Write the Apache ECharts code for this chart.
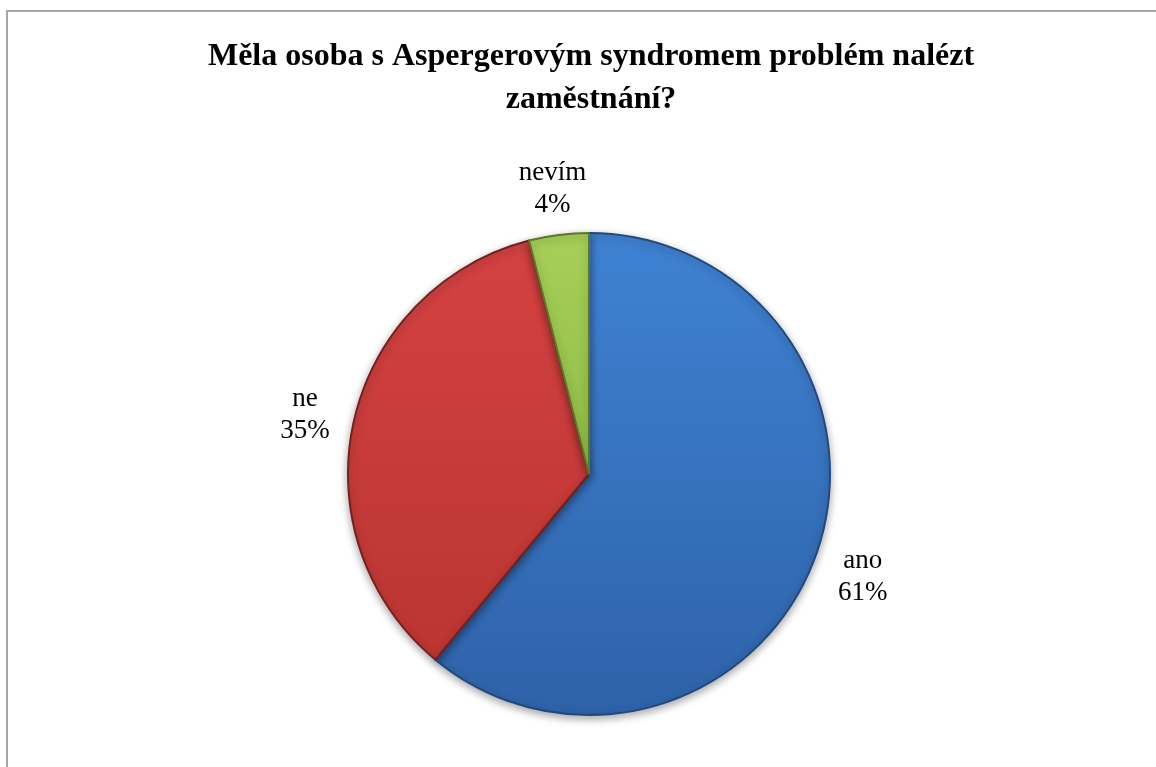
<!DOCTYPE html>
<html>
<head>
<meta charset="utf-8">
<script src="https://cdn.jsdelivr.net/npm/echarts@6/dist/echarts.min.js"></script>
<style>
html,body{margin:0;padding:0;background:#fff;}
#frame{position:absolute;left:6px;top:10px;width:1160px;height:770px;border:2px solid #a6a6a6;box-sizing:border-box;}
#chart{position:absolute;left:0;top:0;width:1156px;height:767px;}
</style>
</head>
<body>
<div id="frame"></div>
<div id="chart"></div>
<script>
const titleText = 'Měla osoba s Aspergerovým syndromem problém nalézt\nzaměstnání?';
const categories = ['ano', 'ne', 'nevím'];
const values = [61, 35, 4];
const topColors = ['#3F82D3', '#D34242', '#A6D058'];
const bottomColors = ['#2E62A8', '#BB3531', '#8FBB45'];
const edgeColors = ['#22487C', '#76201E', '#5A7828'];

const chart = echarts.init(document.getElementById('chart'), null, {renderer: 'canvas'});
const data = categories.map((c, i) => ({
  name: c,
  value: values[i],
  itemStyle: {
    color: {type: 'linear', x: 0, y: 0, x2: 0, y2: 1, colorStops: [{offset: 0, color: topColors[i]}, {offset: 1, color: bottomColors[i]}]},
    borderColor: edgeColors[i]
  }
}));

chart.setOption({
  animation: false,
  title: {
    text: titleText,
    left: 586,
    textAlign: 'center',
    top: 30,
    textStyle: {fontFamily: 'Liberation Serif', fontWeight: 'bold', fontSize: 32, lineHeight: 43, color: '#000'}
  },
  series: [{
    type: 'pie',
    center: [589, 474],
    radius: 241,
    startAngle: 90,
    clockwise: true,
    data: data,
    itemStyle: {borderWidth: 2, shadowBlur: 8, shadowOffsetY: 3, shadowColor: 'rgba(0,0,0,0.35)'},
    label: {
      show: true,
      position: 'outside',
      formatter: p => p.name + '\n' + Math.round(p.percent) + '%',
      fontFamily: 'Liberation Serif',
      fontSize: 27,
      lineHeight: 32,
      color: '#000'
    },
    labelLine: {show: true, length: 10, length2: 0, lineStyle: {opacity: 0}},
    labelLayout: function (params) {
      const pts = params.labelLinePoints;
      if (!pts || pts.length < 2) return {};
      const dx = pts[1][0] - pts[0][0], dy = pts[1][1] - pts[0][1];
      const len = Math.sqrt(dx * dx + dy * dy) || 1;
      const d = 50;
      return {
        x: pts[0][0] + dx / len * d,
        y: pts[0][1] + dy / len * d + 4,
        align: 'center',
        verticalAlign: 'middle'
      };
    }
  }]
});
</script>
</body>
</html>
